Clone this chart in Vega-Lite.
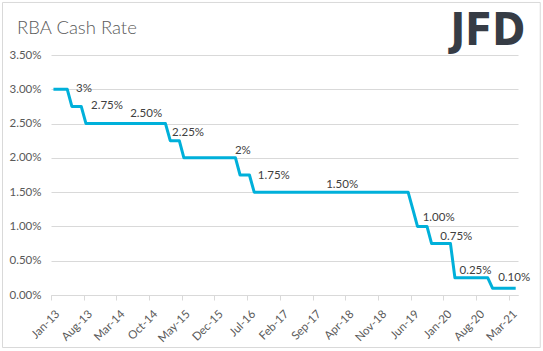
{
  "$schema": "https://vega.github.io/schema/vega-lite/v6.json",
  "width": 467,
  "height": 240,
  "autosize": "none",
  "padding": {"left": 51, "top": 55, "right": 25, "bottom": 56},
  "background": "white",
  "config": {"view": {"stroke": null}},
  "datasets": {
    "rate": [
      {"month": "2013-01-01", "rate": 3.00}, {"month": "2013-02-01", "rate": 3.00}, {"month": "2013-03-01", "rate": 3.00}, {"month": "2013-04-01", "rate": 3.00},
      {"month": "2013-05-01", "rate": 2.75}, {"month": "2013-06-01", "rate": 2.75}, {"month": "2013-07-01", "rate": 2.75},
      {"month": "2013-08-01", "rate": 2.50}, {"month": "2013-09-01", "rate": 2.50}, {"month": "2013-10-01", "rate": 2.50}, {"month": "2013-11-01", "rate": 2.50}, {"month": "2013-12-01", "rate": 2.50},
      {"month": "2014-01-01", "rate": 2.50}, {"month": "2014-02-01", "rate": 2.50}, {"month": "2014-03-01", "rate": 2.50}, {"month": "2014-04-01", "rate": 2.50}, {"month": "2014-05-01", "rate": 2.50}, {"month": "2014-06-01", "rate": 2.50},
      {"month": "2014-07-01", "rate": 2.50}, {"month": "2014-08-01", "rate": 2.50}, {"month": "2014-09-01", "rate": 2.50}, {"month": "2014-10-01", "rate": 2.50}, {"month": "2014-11-01", "rate": 2.50}, {"month": "2014-12-01", "rate": 2.50},
      {"month": "2015-01-01", "rate": 2.50}, {"month": "2015-02-01", "rate": 2.25}, {"month": "2015-03-01", "rate": 2.25}, {"month": "2015-04-01", "rate": 2.25},
      {"month": "2015-05-01", "rate": 2.00}, {"month": "2015-06-01", "rate": 2.00}, {"month": "2015-07-01", "rate": 2.00}, {"month": "2015-08-01", "rate": 2.00}, {"month": "2015-09-01", "rate": 2.00}, {"month": "2015-10-01", "rate": 2.00}, {"month": "2015-11-01", "rate": 2.00}, {"month": "2015-12-01", "rate": 2.00},
      {"month": "2016-01-01", "rate": 2.00}, {"month": "2016-02-01", "rate": 2.00}, {"month": "2016-03-01", "rate": 2.00}, {"month": "2016-04-01", "rate": 2.00},
      {"month": "2016-05-01", "rate": 1.75}, {"month": "2016-06-01", "rate": 1.75}, {"month": "2016-07-01", "rate": 1.75},
      {"month": "2016-08-01", "rate": 1.50}, {"month": "2016-09-01", "rate": 1.50}, {"month": "2016-10-01", "rate": 1.50}, {"month": "2016-11-01", "rate": 1.50}, {"month": "2016-12-01", "rate": 1.50},
      {"month": "2017-01-01", "rate": 1.50}, {"month": "2017-02-01", "rate": 1.50}, {"month": "2017-03-01", "rate": 1.50}, {"month": "2017-04-01", "rate": 1.50}, {"month": "2017-05-01", "rate": 1.50}, {"month": "2017-06-01", "rate": 1.50},
      {"month": "2017-07-01", "rate": 1.50}, {"month": "2017-08-01", "rate": 1.50}, {"month": "2017-09-01", "rate": 1.50}, {"month": "2017-10-01", "rate": 1.50}, {"month": "2017-11-01", "rate": 1.50}, {"month": "2017-12-01", "rate": 1.50},
      {"month": "2018-01-01", "rate": 1.50}, {"month": "2018-02-01", "rate": 1.50}, {"month": "2018-03-01", "rate": 1.50}, {"month": "2018-04-01", "rate": 1.50}, {"month": "2018-05-01", "rate": 1.50}, {"month": "2018-06-01", "rate": 1.50},
      {"month": "2018-07-01", "rate": 1.50}, {"month": "2018-08-01", "rate": 1.50}, {"month": "2018-09-01", "rate": 1.50}, {"month": "2018-10-01", "rate": 1.50}, {"month": "2018-11-01", "rate": 1.50}, {"month": "2018-12-01", "rate": 1.50},
      {"month": "2019-01-01", "rate": 1.50}, {"month": "2019-02-01", "rate": 1.50}, {"month": "2019-03-01", "rate": 1.50}, {"month": "2019-04-01", "rate": 1.50}, {"month": "2019-05-01", "rate": 1.50},
      {"month": "2019-06-01", "rate": 1.25},
      {"month": "2019-07-01", "rate": 1.00}, {"month": "2019-08-01", "rate": 1.00}, {"month": "2019-09-01", "rate": 1.00},
      {"month": "2019-10-01", "rate": 0.75}, {"month": "2019-11-01", "rate": 0.75}, {"month": "2019-12-01", "rate": 0.75}, {"month": "2020-01-01", "rate": 0.75}, {"month": "2020-02-01", "rate": 0.75},
      {"month": "2020-03-01", "rate": 0.25}, {"month": "2020-04-01", "rate": 0.25}, {"month": "2020-05-01", "rate": 0.25}, {"month": "2020-06-01", "rate": 0.25}, {"month": "2020-07-01", "rate": 0.25}, {"month": "2020-08-01", "rate": 0.25}, {"month": "2020-09-01", "rate": 0.25}, {"month": "2020-10-01", "rate": 0.25},
      {"month": "2020-11-01", "rate": 0.10}, {"month": "2020-12-01", "rate": 0.10}, {"month": "2021-01-01", "rate": 0.10}, {"month": "2021-02-01", "rate": 0.10}, {"month": "2021-03-01", "rate": 0.10}, {"month": "2021-04-01", "rate": 0.10}
    ],
    "labels": [
      {"month": "2013-07-19", "pos": 3.0, "label": "3%"},
      {"month": "2013-12-16", "pos": 2.76, "label": "2.75%"},
      {"month": "2014-08-28", "pos": 2.64, "label": "2.50%"},
      {"month": "2015-05-28", "pos": 2.36, "label": "2.25%"},
      {"month": "2016-05-19", "pos": 2.10, "label": "2%"},
      {"month": "2016-12-07", "pos": 1.735, "label": "1.75%"},
      {"month": "2018-02-25", "pos": 1.604, "label": "1.50%"},
      {"month": "2019-11-16", "pos": 1.118, "label": "1.00%"},
      {"month": "2020-03-10", "pos": 0.846, "label": "0.75%"},
      {"month": "2020-07-13", "pos": 0.35, "label": "0.25%"},
      {"month": "2021-03-22", "pos": 0.248, "label": "0.10%"}
    ]
  },
  "resolve": {"scale": {"x": "independent", "y": "independent"}, "axis": {"x": "independent", "y": "independent"}},
  "layer": [
    {
      "data": {"name": "rate"},
      "mark": {"type": "line", "color": "#00B0DA", "strokeWidth": 3, "strokeJoin": "round"},
      "encoding": {
        "x": {
          "field": "month", "type": "temporal",
          "scale": {"type": "utc", "domain": [{"year": 2012, "month": 12, "date": 16, "utc": true}, {"year": 2021, "month": 4, "date": 16, "utc": true}]},
          "axis": {
            "title": null,
            "values": [
              {"year": 2013, "month": 1, "date": 1, "utc": true}, {"year": 2013, "month": 8, "date": 1, "utc": true}, {"year": 2014, "month": 3, "date": 1, "utc": true},
              {"year": 2014, "month": 10, "date": 1, "utc": true}, {"year": 2015, "month": 5, "date": 1, "utc": true}, {"year": 2015, "month": 12, "date": 1, "utc": true},
              {"year": 2016, "month": 7, "date": 1, "utc": true}, {"year": 2017, "month": 2, "date": 1, "utc": true}, {"year": 2017, "month": 9, "date": 1, "utc": true},
              {"year": 2018, "month": 4, "date": 1, "utc": true}, {"year": 2018, "month": 11, "date": 1, "utc": true}, {"year": 2019, "month": 6, "date": 1, "utc": true},
              {"year": 2020, "month": 1, "date": 1, "utc": true}, {"year": 2020, "month": 8, "date": 1, "utc": true}, {"year": 2021, "month": 3, "date": 1, "utc": true}
            ],
            "labelExpr": "utcFormat(datum.value, '%b-%y')",
            "labelAngle": -45, "labelAlign": "right", "labelBaseline": "top",
            "labelFont": "Lato", "labelFontSize": 11.5, "labelColor": "#595959", "labelPadding": 8,
            "tickOffset": -2.33, "labelOffset": 2.33, "tickColor": "#d9d9d9", "tickSize": 5,
            "domainColor": "#d9d9d9", "grid": false, "labelOverlap": false, "labelBound": false, "labelFlush": false
          }
        },
        "y": {
          "field": "rate", "type": "quantitative",
          "scale": {"domain": [0, 3.5], "nice": false},
          "axis": {
            "title": null,
            "values": [0, 0.5, 1, 1.5, 2, 2.5, 3, 3.5],
            "labelExpr": "format(datum.value, '.2f') + '%'",
            "labelFont": "Lato", "labelFontSize": 11.5, "labelColor": "#595959", "labelPadding": 10,
            "labelOverlap": false, "ticks": false, "domain": false, "grid": true, "gridColor": "#d9d9d9", "gridWidth": 1
          }
        }
      }
    },
    {
      "layer": [
        {
          "data": {"name": "labels"},
          "mark": {"type": "text", "align": "center", "baseline": "middle", "font": "Lato", "fontSize": 11.5, "color": "#404040"},
          "encoding": {
            "x": {"field": "month", "type": "temporal", "axis": null,
                  "scale": {"type": "utc", "domain": [{"year": 2012, "month": 12, "date": 16, "utc": true}, {"year": 2021, "month": 4, "date": 16, "utc": true}]}},
            "y": {"field": "pos", "type": "quantitative", "axis": null, "scale": {"domain": [0, 3.5], "nice": false}},
            "text": {"field": "label"}
          }
        },
        {
          "data": {"values": [{}]},
          "mark": {"type": "text", "align": "left", "baseline": "alphabetic", "font": "Lato", "fontWeight": 300, "fontSize": 18.5, "color": "#595959"},
          "encoding": {
            "x": {"datum": {"year": 2012, "month": 5, "date": 9, "utc": true}, "type": "temporal", "axis": null},
            "y": {"datum": 3.806, "type": "quantitative", "axis": null},
            "text": {"value": "RBA Cash Rate"}
          }
        },
        {
          "data": {"values": [{}]},
          "mark": {"type": "text", "align": "right", "baseline": "alphabetic", "font": "DejaVu Sans Condensed", "fontWeight": "bold", "fontSize": 44, "color": "#363c45"},
          "encoding": {
            "x": {"datum": {"year": 2021, "month": 6, "date": 2, "utc": true}, "type": "temporal", "axis": null},
            "y": {"datum": 3.646, "type": "quantitative", "axis": null},
            "text": {"value": "JFD"}
          }
        },
        {
          "data": {"values": [{}]},
          "mark": {"type": "rect", "fill": null, "stroke": "#d9d9d9", "strokeWidth": 1},
          "encoding": {
            "x": {"datum": {"year": 2012, "month": 2, "date": 4, "utc": true}, "type": "temporal", "axis": null},
            "x2": {"datum": {"year": 2021, "month": 9, "date": 8, "utc": true}},
            "y": {"datum": 4.266, "type": "quantitative", "axis": null},
            "y2": {"datum": -0.766}
          }
        }
      ]
    }
  ]
}
